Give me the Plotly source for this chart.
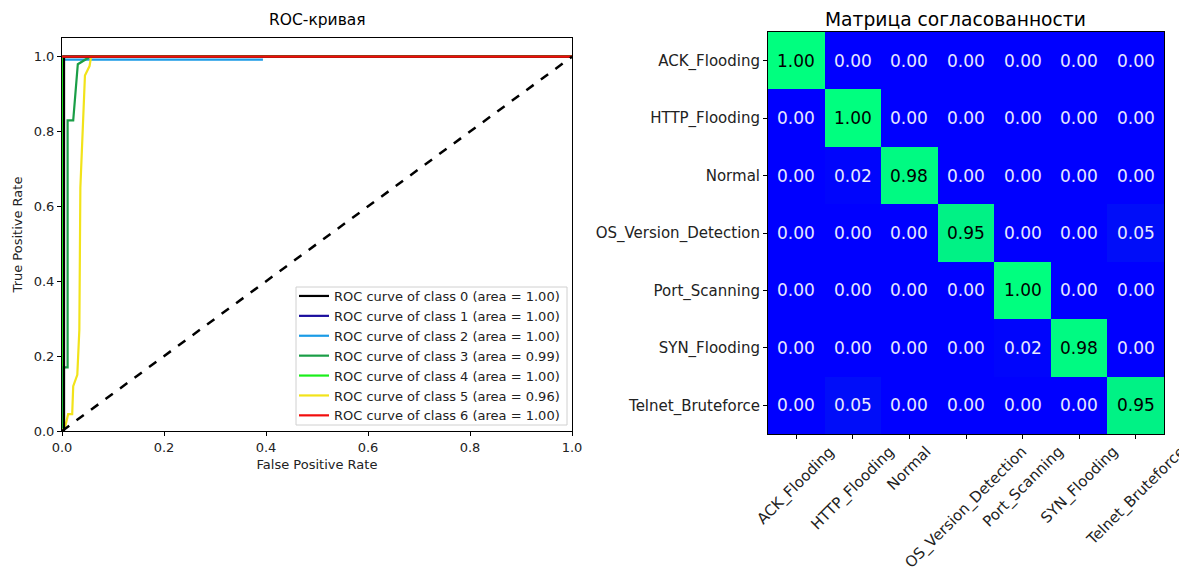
import plotly.graph_objects as go

W, H = 1187, 569
OFF = 8  # default page body margin
FW, FH = W - OFF, H - OFF


def px(x):
    return (x - OFF) / FW


def py(y):
    return 1 - (y - OFF) / FH


# ---------- ROC data ----------
roc_labels = [f"ROC curve of class {i} (area = {a})" for i, a in
              enumerate(["1.00", "1.00", "1.00", "0.99", "1.00", "0.96", "1.00"])]
roc_colors = ["#000000", "#1a0d9e", "#1a9be6", "#1a9e46", "#1aee1a", "#f2e31a", "#f20d0d"]

fpr0 = [0.0, 0.004, 0.004, 1.0]
tpr0 = [0.0, 0.0, 1.0, 1.0]
fpr1 = [0.0, 0.0, 1.0]
tpr1 = [0.0, 1.0, 1.0]
fpr2 = [0.0, 0.0, 0.394]
tpr2 = [0.0, 0.992, 0.992]
fpr3 = [0.0, 0.003, 0.003, 0.011, 0.011, 0.022, 0.031, 0.055, 1.0]
tpr3 = [0.0, 0.0, 0.17, 0.17, 0.83, 0.83, 0.98, 1.0, 1.0]
fpr4 = [0.0, 0.0, 1.0]
tpr4 = [0.0, 1.0, 1.0]
fpr5 = [0.0, 0.006, 0.012, 0.02, 0.022, 0.03, 0.034, 0.036, 0.045, 0.054, 0.057, 1.0]
tpr5 = [0.0, 0.01, 0.045, 0.045, 0.12, 0.15, 0.27, 0.65, 0.95, 0.975, 1.0, 1.0]
fpr6 = [0.0, 1.0]
tpr6 = [1.0, 1.0]

roc_fpr = [fpr0, fpr1, fpr2, fpr3, fpr4, fpr5, fpr6]
roc_tpr = [tpr0, tpr1, tpr2, tpr3, tpr4, tpr5, tpr6]
draw_order = [1, 2, 4, 3, 5, 0, 6]

diag_x = [0.0, 1.0]
diag_y = [0.0, 1.0]

roc_ticks = [0.0, 0.2, 0.4, 0.6, 0.8, 1.0]
roc_ticktext = ["0.0", "0.2", "0.4", "0.6", "0.8", "1.0"]

# ---------- Confusion matrix data ----------
classes = ["ACK_Flooding", "HTTP_Flooding", "Normal", "OS_Version_Detection",
           "Port_Scanning", "SYN_Flooding", "Telnet_Bruteforce"]
cm = [
    [1.00, 0.00, 0.00, 0.00, 0.00, 0.00, 0.00],
    [0.00, 1.00, 0.00, 0.00, 0.00, 0.00, 0.00],
    [0.00, 0.02, 0.98, 0.00, 0.00, 0.00, 0.00],
    [0.00, 0.00, 0.00, 0.95, 0.00, 0.00, 0.05],
    [0.00, 0.00, 0.00, 0.00, 1.00, 0.00, 0.00],
    [0.00, 0.00, 0.00, 0.00, 0.02, 0.98, 0.00],
    [0.00, 0.05, 0.00, 0.00, 0.00, 0.00, 0.95],
]
n = len(classes)

FONT = "DejaVu Sans"
fig = go.Figure()

for i in draw_order:
    fig.add_trace(go.Scatter(
        x=roc_fpr[i], y=roc_tpr[i], mode="lines", name=roc_labels[i],
        legendrank=i + 1,
        line=dict(color=roc_colors[i], width=2.2),
        xaxis="x", yaxis="y"))
fig.add_trace(go.Scatter(x=diag_x, y=diag_y, mode="lines", showlegend=False,
                         line=dict(color="black", width=2.5, dash="dash"),
                         xaxis="x", yaxis="y"))

fig.add_trace(go.Heatmap(
    z=cm, x=classes, y=classes,
    colorscale=[[0, "rgb(0,0,255)"], [1, "rgb(0,255,127)"]],
    zmin=0, zmax=1, showscale=False, xgap=0, ygap=0,
    xaxis="x2", yaxis="y2", hoverinfo="skip"))

annotations = []
for r in range(n):
    for c in range(n):
        v = cm[r][c]
        annotations.append(dict(
            x=classes[c], y=classes[r], xref="x2", yref="y2",
            text=f"{v:.2f}", showarrow=False,
            font=dict(family=FONT, size=17,
                      color="black" if v > 0.5 else "#e8e8ff")))

# rotated x tick labels of the matrix, centred on their ticks (matplotlib style)
for c in classes:
    annotations.append(dict(
        x=c, y=py(440), xref="x2", yref="paper", text=c, showarrow=False,
        textangle=-45, xanchor="center", yanchor="top",
        font=dict(family=FONT, size=15, color="#222")))

annotations.append(dict(x=px(317), y=py(20), xref="paper", yref="paper",
                        xanchor="center", yanchor="middle",
                        text="ROC-кривая", showarrow=False,
                        font=dict(family=FONT, size=15.5, color="black")))
annotations.append(dict(x=px(955), y=py(20), xref="paper", yref="paper",
                        xanchor="center", yanchor="middle",
                        text="Матрица согласованности", showarrow=False,
                        font=dict(family=FONT, size=18.7, color="black")))

shapes = [dict(type="rect", xref="paper", yref="paper",
               x0=px(296), x1=px(567), y0=py(425), y1=py(287),
               fillcolor="white", line=dict(color="#d0d0d0", width=1),
               layer="above")]


def axis_common(size):
    return dict(showline=True, linecolor="black", linewidth=1, mirror=True,
                ticks="outside", ticklen=4, tickcolor="black",
                showgrid=False, zeroline=False, automargin=False,
                tickfont=dict(family=FONT, size=size, color="#222"))


fig.update_layout(
    width=FW, height=FH,
    margin=dict(l=0, r=0, t=0, b=0),
    paper_bgcolor="white", plot_bgcolor="white",
    showlegend=True,
    legend=dict(x=px(294), y=py(281), xanchor="left", yanchor="top",
                bgcolor="rgba(0,0,0,0)", borderwidth=0,
                font=dict(family=FONT, size=13, color="#222"),
                tracegroupgap=0, itemwidth=30),
    xaxis=dict(domain=[px(62), px(572)], range=[0, 1], tickvals=roc_ticks,
               ticktext=roc_ticktext,
               title=dict(text="False Positive Rate", standoff=6,
                          font=dict(family=FONT, size=13, color="#222")),
               anchor="y", **axis_common(13)),
    yaxis=dict(domain=[py(431), py(38)], range=[0, 1.05], tickvals=roc_ticks,
               ticktext=roc_ticktext,
               title=dict(text="True Positive Rate", standoff=8,
                          font=dict(family=FONT, size=13, color="#222")),
               anchor="x", **axis_common(13)),
    xaxis2=dict(domain=[px(768), px(1164)], anchor="y2", showticklabels=False,
                range=[-0.5, n - 0.5], autorange=False,
                categoryorder="array", categoryarray=classes, **axis_common(15)),
    yaxis2=dict(domain=[py(434), py(32)], anchor="x2",
                range=[n - 0.5, -0.5], autorange=False,
                categoryorder="array", categoryarray=classes, **axis_common(15)),
    annotations=annotations,
    shapes=shapes,
    font=dict(family=FONT),
)

fig.write_html("out.html")
